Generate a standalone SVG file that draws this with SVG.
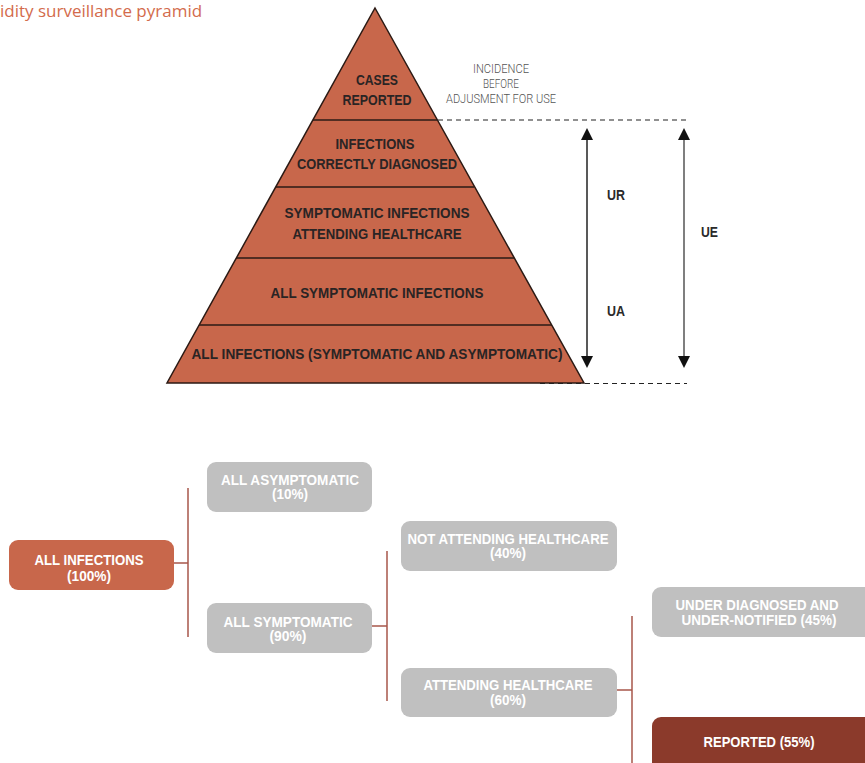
<svg xmlns="http://www.w3.org/2000/svg" width="865" height="763" viewBox="0 0 865 763">
<style>
.bg{fill:#ffffff}
.tier{fill:#c8674b;stroke:#2b1a14;stroke-width:1.5}
.div{stroke:#2b1a14;stroke-width:1.5}
.pt{font-family:"Liberation Sans",Arial,sans-serif;font-weight:bold;font-size:15px;fill:#2a2424;text-anchor:middle}
.inc{font-family:Roboto,"Liberation Sans",sans-serif;font-weight:300;font-size:12.5px;fill:#555555;text-anchor:middle}
.lab{font-family:"Liberation Sans",Arial,sans-serif;font-weight:bold;font-size:14px;fill:#2a2a2a}
.dash{stroke:#222222;stroke-width:1.2;stroke-dasharray:5 4;fill:none}
.arr{stroke:#222222;stroke-width:1.5;fill:none}
.arr2{stroke:#555555;stroke-width:1.5;fill:none}
.head{fill:#111111}
.gray{fill:#c0c0c0}
.red{fill:#c8674b}
.dark{fill:#8b3a2b}
.bt{font-family:"Liberation Sans",Arial,sans-serif;font-weight:bold;font-size:14px;fill:#ffffff;text-anchor:middle}
.conn{stroke:#a8574b;stroke-width:1.5;fill:none}
.title{font-family:"Open Sans","Noto Sans",sans-serif;font-size:17px;fill:#d36b4c}
</style>
<rect class="bg" x="0" y="0" width="865" height="763"/>
<text class="title" x="0" y="17">idity surveillance pyramid</text>

<g id="pyramid">
<polygon class="tier" points="375,8 584,383 167,383"/>
<line class="div" x1="313" y1="120" x2="437" y2="120"/>
<line class="div" x1="276" y1="187" x2="474" y2="187"/>
<line class="div" x1="236" y1="258" x2="514" y2="258"/>
<line class="div" x1="199" y1="325" x2="552" y2="325"/>
</g>
<g id="tier-cases">
<text class="pt" x="377" y="84.5" textLength="42" lengthAdjust="spacingAndGlyphs">CASES</text>
<text class="pt" x="377" y="104.5" textLength="69" lengthAdjust="spacingAndGlyphs">REPORTED</text>
</g>
<g id="tier-diagnosed">
<text class="pt" x="375" y="148.5" textLength="79" lengthAdjust="spacingAndGlyphs">INFECTIONS</text>
<text class="pt" x="377" y="168.5" textLength="160" lengthAdjust="spacingAndGlyphs">CORRECTLY DIAGNOSED</text>
</g>
<g id="tier-attending">
<text class="pt" x="377" y="217.5" textLength="185" lengthAdjust="spacingAndGlyphs">SYMPTOMATIC INFECTIONS</text>
<text class="pt" x="377" y="238.5" textLength="169" lengthAdjust="spacingAndGlyphs">ATTENDING HEALTHCARE</text>
</g>
<g id="tier-symptomatic">
<text class="pt" x="377" y="297.5" textLength="213" lengthAdjust="spacingAndGlyphs">ALL SYMPTOMATIC INFECTIONS</text>
</g>
<g id="tier-all">
<text class="pt" x="377" y="358.5" textLength="371" lengthAdjust="spacingAndGlyphs">ALL INFECTIONS (SYMPTOMATIC AND ASYMPTOMATIC)</text>
</g>

<g id="incidence-note">
<text class="inc" x="501" y="72.5" textLength="56" lengthAdjust="spacingAndGlyphs">INCIDENCE</text>
<text class="inc" x="501" y="87.5" textLength="36" lengthAdjust="spacingAndGlyphs">BEFORE</text>
<text class="inc" x="501" y="102.5" textLength="110" lengthAdjust="spacingAndGlyphs">ADJUSMENT FOR USE</text>
</g>

<g id="measures">
<line class="dash" x1="438" y1="120" x2="687" y2="120"/>
<line class="dash" x1="540" y1="383.5" x2="687" y2="383.5"/>
<line class="arr" x1="587" y1="138" x2="587" y2="358"/>
<polygon class="head" points="587,128 581,140 593,140"/>
<polygon class="head" points="587,368 581,356 593,356"/>
<line class="arr2" x1="684" y1="138" x2="684" y2="358"/>
<polygon class="head" points="684,128 678,140 690,140"/>
<polygon class="head" points="684,368 678,356 690,356"/>
<text class="lab" x="607" y="200" textLength="18" lengthAdjust="spacingAndGlyphs">UR</text>
<text class="lab" x="607" y="316" textLength="18" lengthAdjust="spacingAndGlyphs">UA</text>
<text class="lab" x="701" y="237" textLength="17" lengthAdjust="spacingAndGlyphs">UE</text>
</g>

<g id="connectors">
<path class="conn" d="M174,563 H188 M188,488 V637"/>
<path class="conn" d="M372,626 H387 M387,551 V701"/>
<path class="conn" d="M617,690 H632 M632,616 V763"/>
</g>

<g id="node-all-infections">
<rect class="red" x="9" y="540" width="165" height="50" rx="9"/>
<text class="bt" x="89" y="564.5" textLength="109" lengthAdjust="spacingAndGlyphs">ALL INFECTIONS</text>
<text class="bt" x="89" y="581" textLength="44" lengthAdjust="spacingAndGlyphs">(100%)</text>
</g>
<g id="node-all-asymptomatic">
<rect class="gray" x="207" y="462" width="165" height="50" rx="9"/>
<text class="bt" x="290" y="484.5" textLength="138" lengthAdjust="spacingAndGlyphs">ALL ASYMPTOMATIC</text>
<text class="bt" x="290" y="499" textLength="36" lengthAdjust="spacingAndGlyphs">(10%)</text>
</g>
<g id="node-all-symptomatic">
<rect class="gray" x="207" y="603" width="165" height="50" rx="9"/>
<text class="bt" x="288" y="626.5" textLength="129" lengthAdjust="spacingAndGlyphs">ALL SYMPTOMATIC</text>
<text class="bt" x="288" y="641" textLength="37" lengthAdjust="spacingAndGlyphs">(90%)</text>
</g>
<g id="node-not-attending">
<rect class="gray" x="401" y="521" width="216" height="50" rx="9"/>
<text class="bt" x="508" y="543.5" textLength="201" lengthAdjust="spacingAndGlyphs">NOT ATTENDING HEALTHCARE</text>
<text class="bt" x="508" y="558" textLength="36" lengthAdjust="spacingAndGlyphs">(40%)</text>
</g>
<g id="node-attending">
<rect class="gray" x="401" y="668" width="216" height="49" rx="9"/>
<text class="bt" x="508" y="689.5" textLength="169" lengthAdjust="spacingAndGlyphs">ATTENDING HEALTHCARE</text>
<text class="bt" x="508" y="705" textLength="36" lengthAdjust="spacingAndGlyphs">(60%)</text>
</g>
<g id="node-under-diagnosed">
<rect class="gray" x="652" y="587" width="222" height="50" rx="9"/>
<text class="bt" x="757" y="609.5" textLength="163" lengthAdjust="spacingAndGlyphs">UNDER DIAGNOSED AND</text>
<text class="bt" x="759" y="624.5" textLength="155" lengthAdjust="spacingAndGlyphs">UNDER-NOTIFIED (45%)</text>
</g>
<g id="node-reported">
<rect class="dark" x="652" y="717" width="222" height="60" rx="9"/>
<text class="bt" x="759" y="746.5" textLength="111" lengthAdjust="spacingAndGlyphs">REPORTED (55%)</text>
</g>
</svg>
